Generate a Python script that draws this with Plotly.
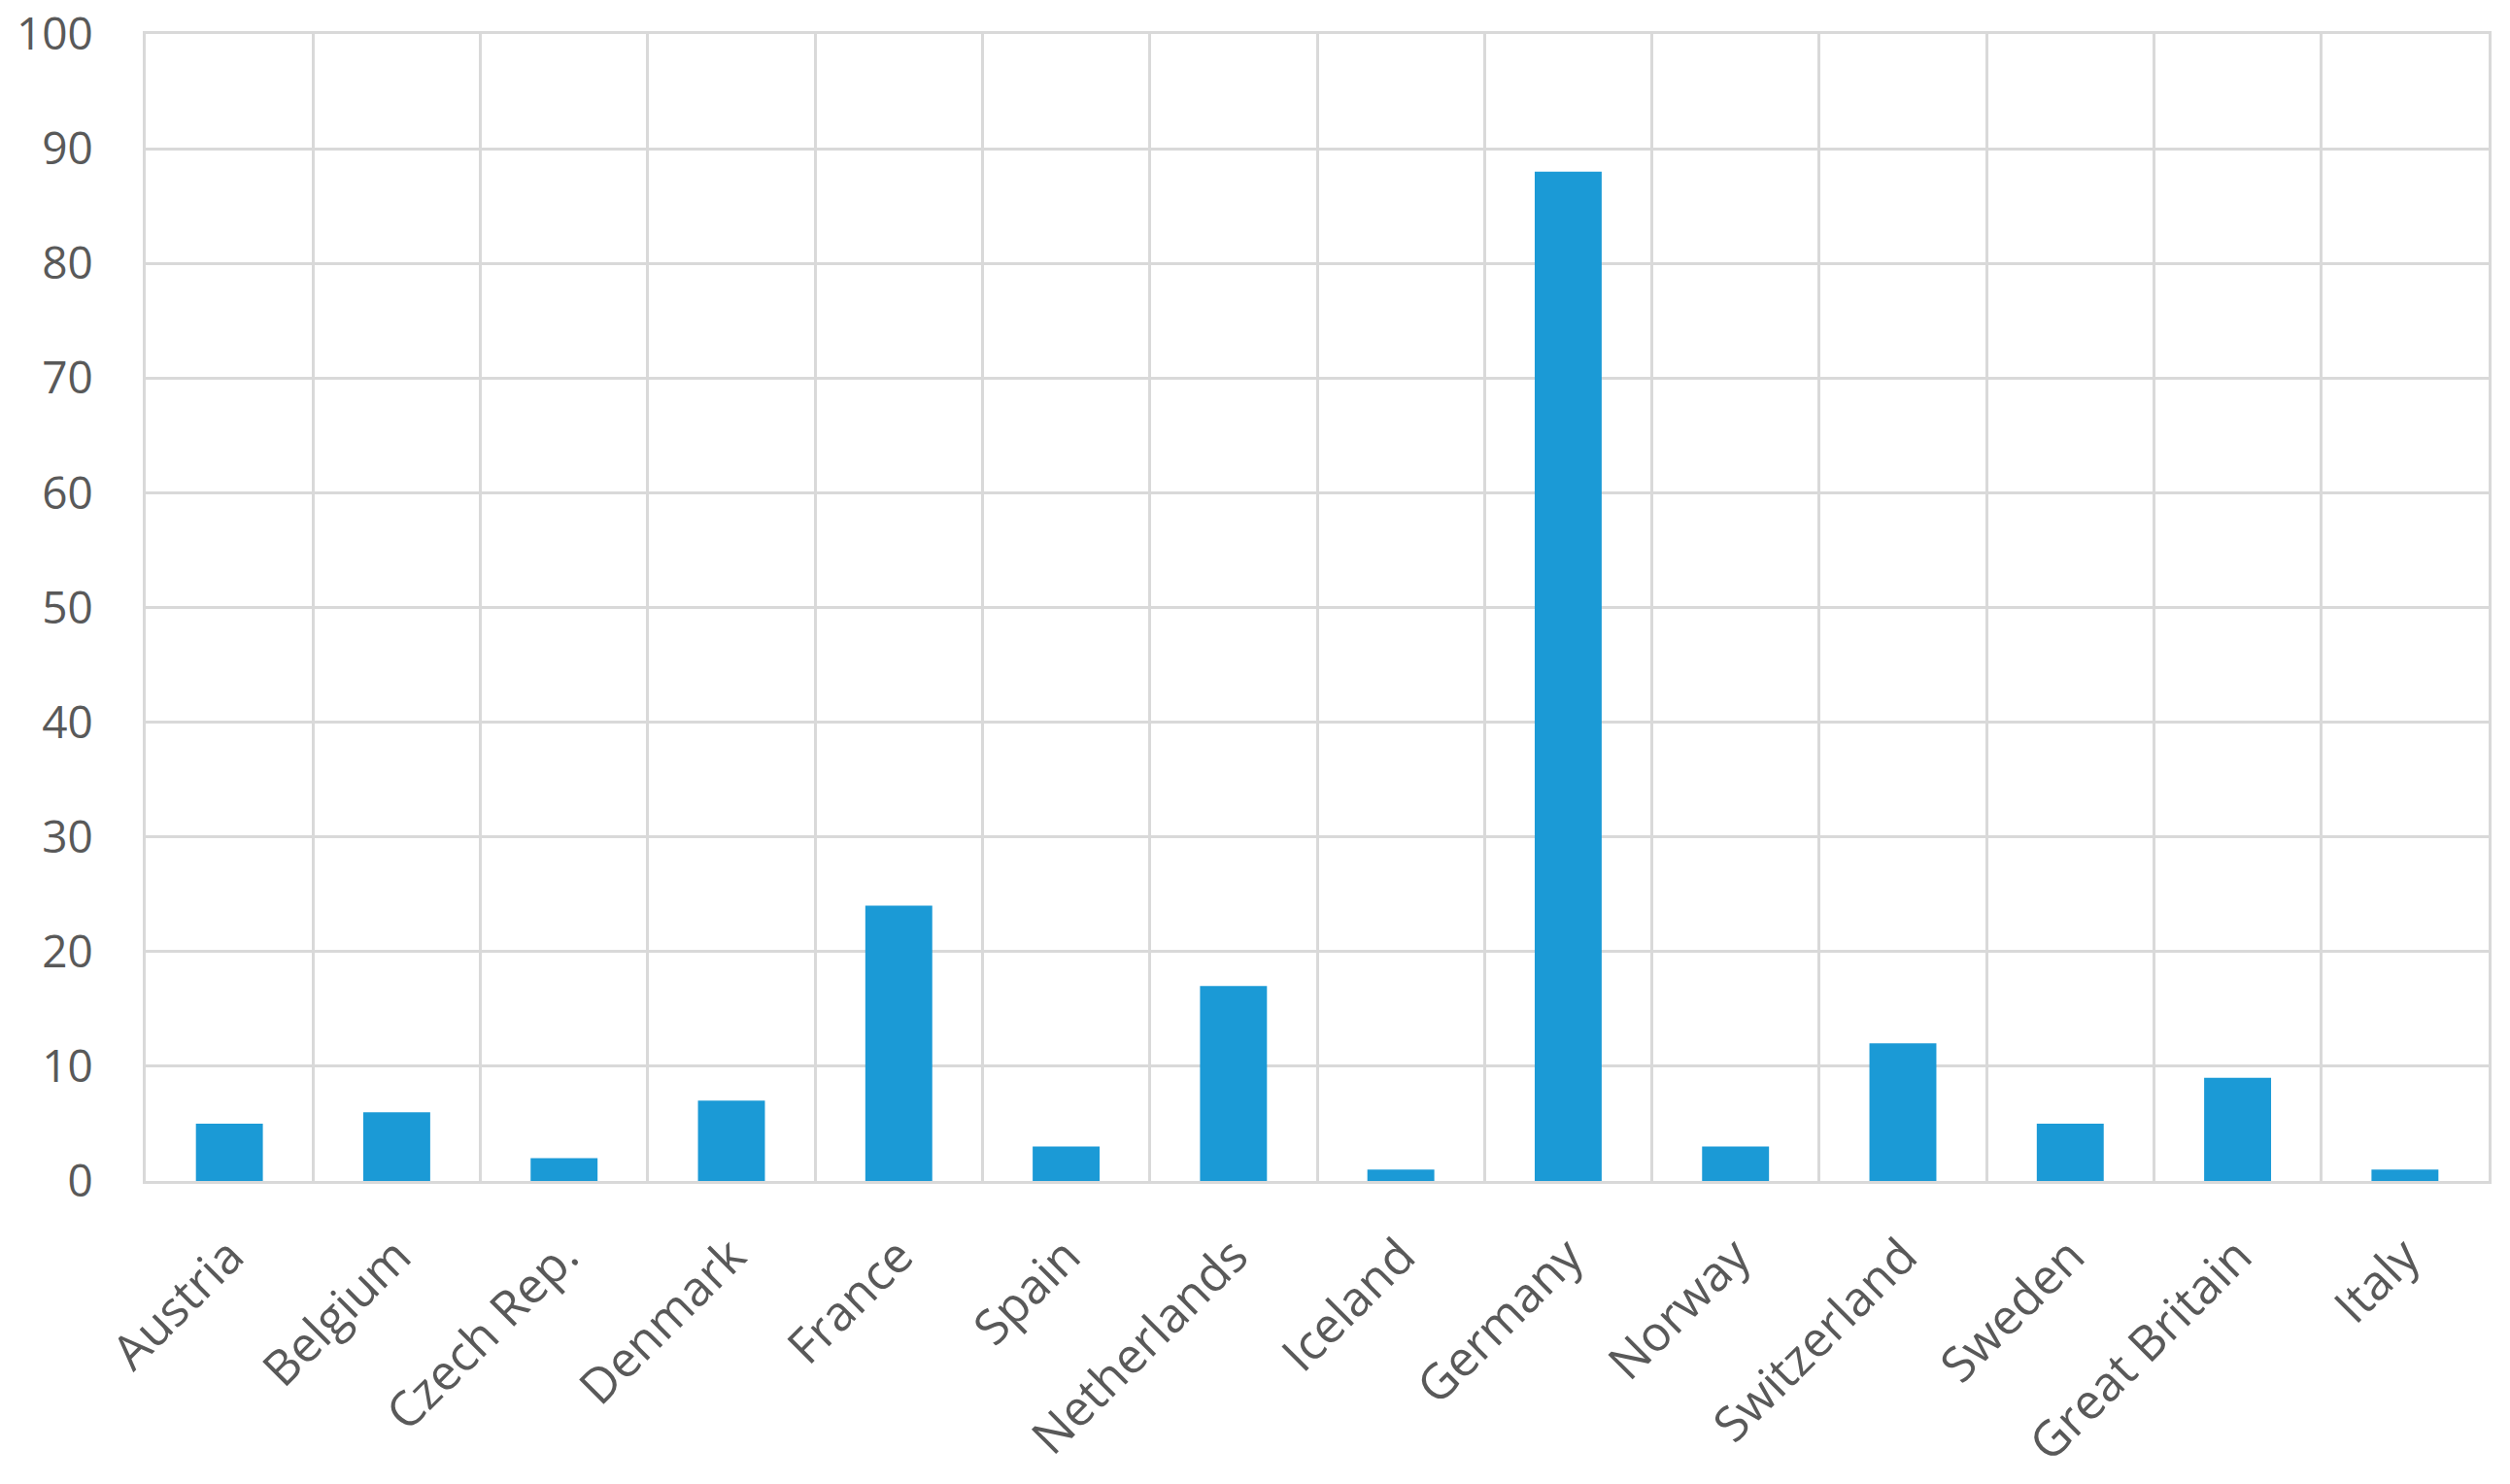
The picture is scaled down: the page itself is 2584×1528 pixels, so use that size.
import plotly.graph_objects as go

countries = ["Austria", "Belgium", "Czech Rep.", "Denmark", "France", "Spain",
             "Netherlands", "Iceland", "Germany", "Norway", "Switzerland",
             "Sweden", "Great Britain", "Italy"]
values = [5, 6, 2, 7, 24, 3, 17, 1, 88, 3, 12, 5, 9, 1]

y_ticks = list(range(0, 101, 10))

GRID = "#d9d9d9"
TEXT = "#595959"
FONT = "Open Sans, Noto Sans, sans-serif"

fig = go.Figure()
fig.add_trace(go.Bar(
    x=countries,
    y=values,
    marker=dict(color="#1B9AD6", line=dict(width=0)),
    width=0.4,
))

fig.update_layout(
    width=2584,
    height=1528,
    margin=dict(l=150, r=22, t=35, b=312),
    paper_bgcolor="white",
    plot_bgcolor="white",
    showlegend=False,
    font=dict(family=FONT, size=44, color=TEXT),
)

fig.update_xaxes(
    type="category",
    tickson="boundaries",
    automargin=False,
    showgrid=True,
    gridcolor=GRID,
    gridwidth=3,
    showline=True,
    linecolor=GRID,
    linewidth=3,
    mirror=True,
    ticks="",
    ticklabelstandoff=25,
    tickangle=-45,
    ticklabeloverflow="allow",
    tickfont=dict(family=FONT, size=50, color=TEXT),
)

fig.update_yaxes(
    range=[0, 100],
    tickvals=y_ticks,
    automargin=False,
    showgrid=True,
    gridcolor=GRID,
    gridwidth=3,
    zeroline=False,
    showline=True,
    linecolor=GRID,
    linewidth=3,
    mirror=True,
    ticks="outside",
    ticklen=42,
    tickcolor="rgba(0,0,0,0)",
    ticklabeloverflow="allow",
    tickfont=dict(family=FONT, size=46, color=TEXT),
)

fig.write_html("out.html", config={"displayModeBar": False},
               post_script="document.body.style.margin='0';")
